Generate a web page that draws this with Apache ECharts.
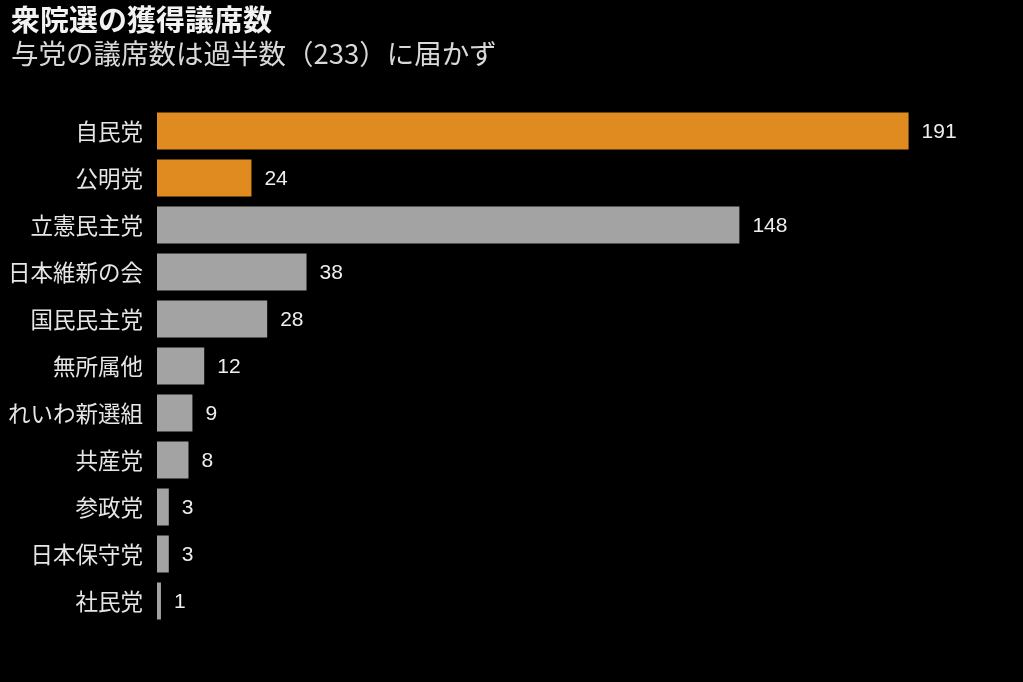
<!DOCTYPE html>
<html><head><meta charset="utf-8">
<script src="https://cdn.jsdelivr.net/npm/echarts@6/dist/echarts.min.js"></script>
<style>html,body{margin:0;padding:0;background:#000;}#c{width:1023px;height:682px;}</style>
</head><body><div id="c"></div>
<script>
const categories = ['自民党','公明党','立憲民主党','日本維新の会','国民民主党','無所属他','れいわ新選組','共産党','参政党','日本保守党','社民党'];
const seats = [191,24,148,38,28,12,9,8,3,3,1];
const ruling = [true,true,false,false,false,false,false,false,false,false,false];
const titleText = '衆院選の獲得議席数';
const subtitleText = '与党の議席数は過半数（233）に届かず';

const font = '"Noto Sans CJK JP", "Noto Sans", sans-serif';
const chart = echarts.init(document.getElementById('c'));
chart.setOption({
  backgroundColor: '#000',
  animation: false,
  title: {
    text: titleText, subtext: subtitleText, left: 6, top: 0, itemGap: 6,
    textStyle: {color: '#f2f2f2', fontSize: 29, fontWeight: 'bold', fontFamily: font},
    subtextStyle: {color: '#d9d9d9', fontSize: 27.5, fontFamily: font}
  },
  grid: {left: 157, right: 79, top: 107.5, height: 517, containLabel: false},
  xAxis: {type: 'value', min: 0, max: 200, show: false},
  yAxis: {
    type: 'category', data: categories, inverse: true,
    axisLine: {show: false}, axisTick: {show: false},
    axisLabel: {color: '#e6e6e6', fontSize: 22.5, margin: 14, fontFamily: font}
  },
  series: [{
    type: 'bar', barWidth: 37,
    data: seats.map((v, i) => ({value: v, itemStyle: {color: ruling[i] ? '#E08B1F' : '#A3A3A3'}})),
    label: {show: true, position: 'right', distance: 13, offset: [0, 1], color: '#eeeeee', fontSize: 21, fontFamily: '"Liberation Sans", Arial, sans-serif'}
  }]
});
</script></body></html>
